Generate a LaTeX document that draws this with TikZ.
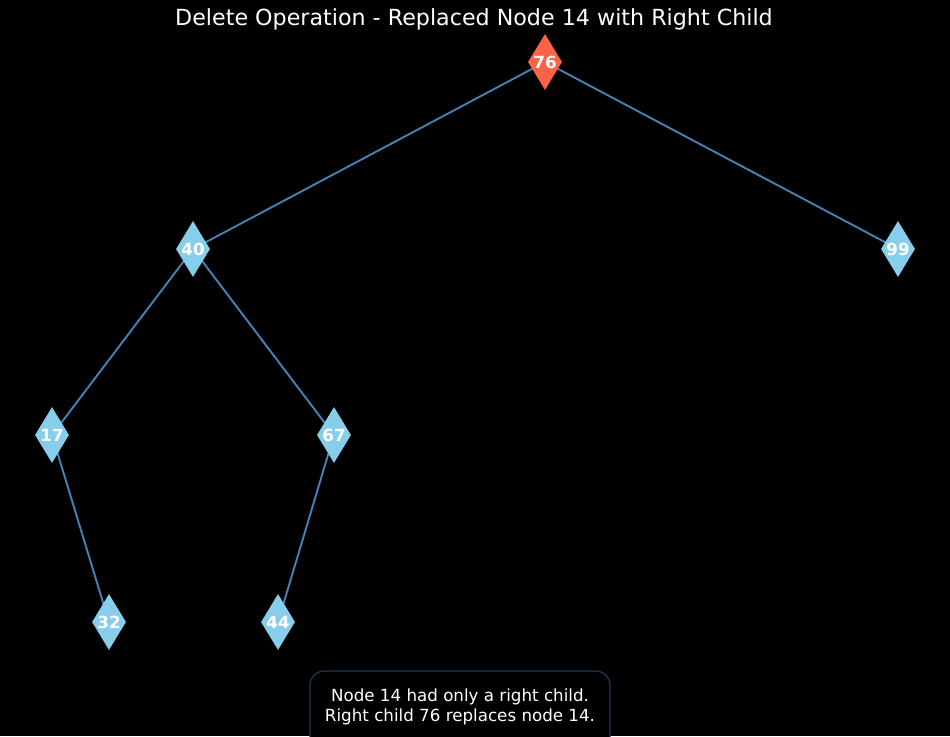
\documentclass[tikz,border=0pt]{standalone}
\usepackage{fontspec}
\setmainfont{DejaVu Sans}
\usetikzlibrary{shapes.geometric,backgrounds}
\definecolor{edgec}{HTML}{4682B4}
\definecolor{nodec}{HTML}{87CEEB}
\definecolor{rootc}{HTML}{FF6347}
\definecolor{boxborder}{HTML}{1F3A5A}
\begin{document}
\begin{tikzpicture}[x=1pt,y=-1pt,
  tnode/.style={diamond,fill=nodec,draw=none,inner sep=0pt,minimum width=34pt,minimum height=56pt,
     label={[text=white,font=\fontsize{16.7}{18}\selectfont\bfseries]center:#1}},
  rnode/.style={tnode=#1,fill=rootc},
  conn/.style={draw=edgec,line width=1.9pt}]
\useasboundingbox (0,0) rectangle (950,736);
\node[font=\fontsize{22.2}{26}\selectfont,text=white] (title) at (474,19) {Delete Operation - Replaced Node 14 with Right Child};
\node[rnode=76] (n76) at (545,62) {};
\node[tnode=40] (n40) at (193,249) {};
\node[tnode=99] (n99) at (898,249) {};
\node[tnode=17] (n17) at (52,435) {};
\node[tnode=67] (n67) at (334,435) {};
\node[tnode=32] (n32) at (109,622) {};
\node[tnode=44] (n44) at (278,622) {};
\begin{scope}[on background layer]
\fill[black] (0,0) rectangle (950,736);
\draw[conn] (n76.center) -- (n40.center);
\draw[conn] (n76.center) -- (n99.center);
\draw[conn] (n40.center) -- (n17.center);
\draw[conn] (n40.center) -- (n67.center);
\draw[conn] (n17.center) -- (n32.center);
\draw[conn] (n67.center) -- (n44.center);
\end{scope}
\draw[boxborder,line width=1.2pt,fill=black,rounded corners=14pt] (310,671) rectangle (610,760);
\node[text=white,font=\fontsize{16.7}{20.5}\selectfont,align=center] (note) at (460,707) {Node 14 had only a right child.\\Right child 76 replaces node 14.};
\end{tikzpicture}
\end{document}
